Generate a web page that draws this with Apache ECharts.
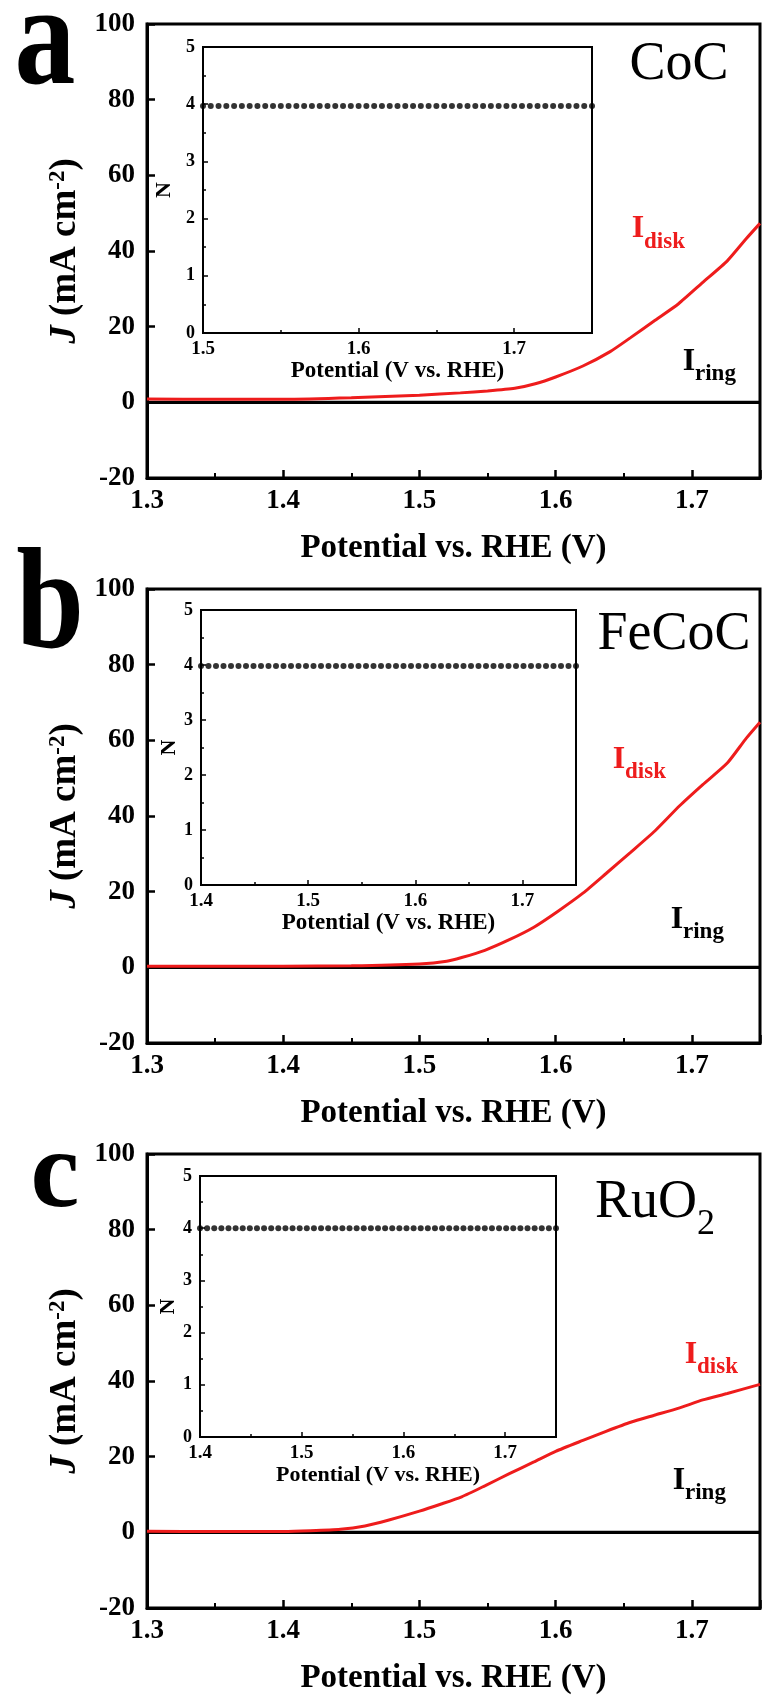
<!DOCTYPE html>
<html><head><meta charset="utf-8">
<script src="https://cdn.jsdelivr.net/npm/echarts/dist/echarts.min.js"></script>
<style>html,body{margin:0;padding:0;background:#fff}#c{width:765px;height:1700px}</style>
</head><body><div id="c"></div>
<script>
// ---------- DATA ----------
const xTicks = [1.3, 1.4, 1.5, 1.6, 1.7];
const panelLetters = ['a', 'b', 'c'];
const catalysts = ['CoC', 'FeCoC', 'RuO'];

const potA = [1.30,1.35,1.40,1.45,1.50,1.53,1.55,1.57,1.585,1.60,1.62,1.64,1.655,1.673,1.69,1.708,1.726,1.74,1.75];
const diskA = [0.9,0.8,0.8,1.2,1.9,2.5,3.0,3.7,4.9,6.7,9.6,13.4,17.1,21.7,26.0,31.7,37.4,43.3,47.3];

const potB = [1.30,1.40,1.45,1.50,1.52,1.531,1.548,1.566,1.584,1.602,1.62,1.637,1.655,1.673,1.691,1.708,1.726,1.74,1.75];
const diskB = [0.3,0.3,0.4,0.9,1.6,2.6,4.5,7.3,10.6,14.9,19.6,24.8,30.4,36.1,42.7,48.3,54.0,60.6,64.8];

const potC = [1.30,1.35,1.40,1.42,1.442,1.46,1.477,1.50,1.516,1.531,1.548,1.566,1.584,1.60,1.62,1.637,1.655,1.673,1.691,1.708,1.726,1.75];
const diskC = [0.3,0.2,0.2,0.4,0.8,1.7,3.2,5.6,7.5,9.4,12.3,15.5,18.6,21.4,24.3,26.7,29.1,31.0,32.9,35.0,36.7,39.1];

const ringPot = [1.30,1.40,1.50,1.60,1.70,1.75];
const ringA = [0,0,0,0,0,0];
const ringB = [0,0,0,0,0,0];
const ringC = [0,0,0,0,0,0];

const insetPotA = [1.500,1.505,1.510,1.515,1.520,1.525,1.530,1.535,1.540,1.545,1.550,1.555,1.560,1.565,1.570,1.575,1.580,1.585,1.590,1.595,1.600,1.605,1.610,1.615,1.620,1.625,1.630,1.635,1.640,1.645,1.650,1.655,1.660,1.665,1.670,1.675,1.680,1.685,1.690,1.695,1.700,1.705,1.710,1.715,1.720,1.725,1.730,1.735,1.740,1.745,1.750];
const nA = [3.97,3.97,3.97,3.97,3.97,3.97,3.97,3.97,3.97,3.97,3.97,3.97,3.97,3.97,3.97,3.97,3.97,3.97,3.97,3.97,3.97,3.97,3.97,3.97,3.97,3.97,3.97,3.97,3.97,3.97,3.97,3.97,3.97,3.97,3.97,3.97,3.97,3.97,3.97,3.97,3.97,3.97,3.97,3.97,3.97,3.97,3.97,3.97,3.97,3.97,3.97];

const insetPotBC = [1.400,1.407,1.414,1.421,1.428,1.435,1.442,1.449,1.456,1.463,1.470,1.477,1.484,1.491,1.498,1.505,1.512,1.519,1.526,1.533,1.540,1.547,1.554,1.561,1.568,1.575,1.582,1.589,1.596,1.603,1.610,1.617,1.624,1.631,1.638,1.645,1.652,1.659,1.666,1.673,1.680,1.687,1.694,1.701,1.708,1.715,1.722,1.729,1.736,1.743,1.750];
const nB = [3.98,3.98,3.98,3.98,3.98,3.98,3.98,3.98,3.98,3.98,3.98,3.98,3.98,3.98,3.98,3.98,3.98,3.98,3.98,3.98,3.98,3.98,3.98,3.98,3.98,3.98,3.98,3.98,3.98,3.98,3.98,3.98,3.98,3.98,3.98,3.98,3.98,3.98,3.98,3.98,3.98,3.98,3.98,3.98,3.98,3.98,3.98,3.98,3.98,3.98,3.98];
const nC = [4.0,4.0,4.0,4.0,4.0,4.0,4.0,4.0,4.0,4.0,4.0,4.0,4.0,4.0,4.0,4.0,4.0,4.0,4.0,4.0,4.0,4.0,4.0,4.0,4.0,4.0,4.0,4.0,4.0,4.0,4.0,4.0,4.0,4.0,4.0,4.0,4.0,4.0,4.0,4.0,4.0,4.0,4.0,4.0,4.0,4.0,4.0,4.0,4.0,4.0,4.0];

// ---------- STYLE / LAYOUT ----------
const SERIF = '"Liberation Serif","Times New Roman",serif';
const RED = '#ee1c1c';
const mainGrids = [
  {left:147, top:24, width:613, height:454},
  {left:147, top:589, width:613, height:454},
  {left:147, top:1154, width:613, height:454}
];
const insetGrids = [
  {left:203, top:47, width:389, height:286, xmin:1.5, nameSize:23},
  {left:201, top:610, width:375, height:275, xmin:1.4, nameSize:23},
  {left:200, top:1176, width:356, height:261, xmin:1.4, nameSize:22}
];
const zip = (xs, ys) => xs.map((x, i) => [x, ys[i]]);
const disks = [zip(potA, diskA), zip(potB, diskB), zip(potC, diskC)];
const rings = [zip(ringPot, ringA), zip(ringPot, ringB), zip(ringPot, ringC)];
const insets = [zip(insetPotA, nA), zip(insetPotBC, nB), zip(insetPotBC, nC)];

const grid = [], xAxis = [], yAxis = [], series = [];
mainGrids.forEach((g, k) => {
  grid.push({left:g.left, top:g.top, width:g.width, height:g.height, show:true, borderColor:'#000', borderWidth:3, containLabel:false});
  const gi = grid.length - 1;
  xAxis.push({
    gridIndex:gi, type:'value', min:1.3, max:1.75, interval:0.1,
    axisLine:{onZero:false, lineStyle:{color:'#000', width:3}},
    axisTick:{inside:true, length:8, lineStyle:{color:'#000', width:2.5}},
    minorTick:{show:true, splitNumber:2, length:5, lineStyle:{color:'#000', width:2}},
    splitLine:{show:false}, minorSplitLine:{show:false},
    axisLabel:{fontFamily:SERIF, fontWeight:'bold', fontSize:27, color:'#000', margin:10, showMaxLabel:false,
      formatter:v => xTicks.some(t => Math.abs(t - v) < 1e-6) ? v.toFixed(1) : ''},
    name:'Potential vs. RHE (V)', nameLocation:'middle', nameGap:54,
    nameTextStyle:{fontFamily:SERIF, fontWeight:'bold', fontSize:33, color:'#000'}
  });
  yAxis.push({
    gridIndex:gi, type:'value', min:-20, max:100, interval:20,
    axisLine:{onZero:false, lineStyle:{color:'#000', width:3}},
    axisTick:{inside:true, length:8, lineStyle:{color:'#000', width:2.5}},
    splitLine:{show:false},
    axisLabel:{fontFamily:SERIF, fontWeight:'bold', fontSize:27, color:'#000', margin:12},
    name:'{i|J} (mA cm{s|-2})', nameLocation:'middle', nameGap:51, nameRotate:90,
    nameTextStyle:{fontFamily:SERIF, fontWeight:'bold', fontSize:37, color:'#000',
      rich:{
        i:{fontFamily:SERIF, fontWeight:'bold', fontStyle:'italic', fontSize:37, color:'#000'},
        s:{fontFamily:SERIF, fontWeight:'bold', fontSize:23, color:'#000', verticalAlign:'top'}
      }}
  });
  series.push({type:'line', xAxisIndex:xAxis.length-1, yAxisIndex:yAxis.length-1, data:rings[k],
    showSymbol:false, lineStyle:{color:'#000', width:3.2}, z:2, animation:false});
  series.push({type:'line', xAxisIndex:xAxis.length-1, yAxisIndex:yAxis.length-1, data:disks[k],
    showSymbol:false, smooth:0.2, lineStyle:{color:RED, width:3}, z:3, animation:false});
});
insetGrids.forEach((g, k) => {
  grid.push({left:g.left, top:g.top, width:g.width, height:g.height, show:true, borderColor:'#000', borderWidth:2, backgroundColor:'#fff'});
  const gi = grid.length - 1;
  xAxis.push({
    gridIndex:gi, type:'value', min:g.xmin, max:1.75, interval:0.1,
    axisLine:{onZero:false, lineStyle:{color:'#000', width:2}},
    axisTick:{inside:true, length:5, lineStyle:{color:'#000', width:1.5}},
    minorTick:{show:true, splitNumber:2, length:3, lineStyle:{color:'#000', width:1.5}},
    splitLine:{show:false},
    axisLabel:{fontFamily:SERIF, fontWeight:'bold', fontSize:19, color:'#000', margin:7, showMaxLabel:false,
      formatter:v => v.toFixed(1)},
    name:'Potential (V vs. RHE)', nameLocation:'middle', nameGap:26,
    nameTextStyle:{fontFamily:SERIF, fontWeight:'bold', fontSize:g.nameSize, color:'#000'}
  });
  yAxis.push({
    gridIndex:gi, type:'value', min:0, max:5, interval:1,
    axisLine:{onZero:false, lineStyle:{color:'#000', width:2}},
    axisTick:{inside:true, length:5, lineStyle:{color:'#000', width:1.5}},
    minorTick:{show:true, splitNumber:2, length:3, lineStyle:{color:'#000', width:1.5}},
    splitLine:{show:false},
    axisLabel:{fontFamily:SERIF, fontWeight:'bold', fontSize:18, color:'#000', margin:8},
    name:'N', nameLocation:'middle', nameGap:16, nameRotate:90,
    nameTextStyle:{fontFamily:SERIF, fontWeight:'bold', fontSize:22, color:'#000'}
  });
  series.push({type:'scatter', xAxisIndex:xAxis.length-1, yAxisIndex:yAxis.length-1, data:insets[k],
    symbol:'circle', symbolSize:6, itemStyle:{color:'#000'}, z:4, animation:false});
});

// annotation texts
const txt = (x, y, text, size, opts) => Object.assign({type:'text', x:x, y:y, z:100,
  style:Object.assign({text:text, fontFamily:SERIF, fontSize:size, fill:'#000', align:'center', verticalAlign:'middle'}, opts.style || {})},
  opts.el || {});
const graphic = [
  txt(45, 46, panelLetters[0], 145, {style:{fontWeight:'bold'}, el:{scaleX:0.84}}),
  txt(50, 610, panelLetters[1], 145, {style:{fontWeight:'bold'}, el:{scaleX:0.84}}),
  txt(55, 1178, panelLetters[2], 110, {style:{fontWeight:'bold'}}),
  txt(679, 65, catalysts[0], 54, {}),
  txt(674, 635, catalysts[1], 54, {}),
  txt(595, 1203, catalysts[2], 54, {style:{align:'left'}}),
  txt(697, 1225, '2', 36, {style:{align:'left'}}),
  // I_disk / I_ring
  txt(638, 229, 'I', 32, {style:{fontWeight:'bold', fill:RED}}),
  txt(644, 242, 'disk', 23, {style:{fontWeight:'bold', fill:RED, align:'left'}}),
  txt(689, 362, 'I', 32, {style:{fontWeight:'bold'}}),
  txt(695, 374, 'ring', 23, {style:{fontWeight:'bold', align:'left'}}),
  txt(619, 760, 'I', 32, {style:{fontWeight:'bold', fill:RED}}),
  txt(625, 772, 'disk', 23, {style:{fontWeight:'bold', fill:RED, align:'left'}}),
  txt(677, 920, 'I', 32, {style:{fontWeight:'bold'}}),
  txt(683, 932, 'ring', 23, {style:{fontWeight:'bold', align:'left'}}),
  txt(691, 1355, 'I', 32, {style:{fontWeight:'bold', fill:RED}}),
  txt(697, 1367, 'disk', 23, {style:{fontWeight:'bold', fill:RED, align:'left'}}),
  txt(679, 1481, 'I', 32, {style:{fontWeight:'bold'}}),
  txt(685, 1493, 'ring', 23, {style:{fontWeight:'bold', align:'left'}})
];

const chart = echarts.init(document.getElementById('c'), null, {renderer:'canvas', width:765, height:1700});
chart.setOption({animation:false, backgroundColor:'#fff', grid, xAxis, yAxis, series, graphic});
</script>
</body></html>
